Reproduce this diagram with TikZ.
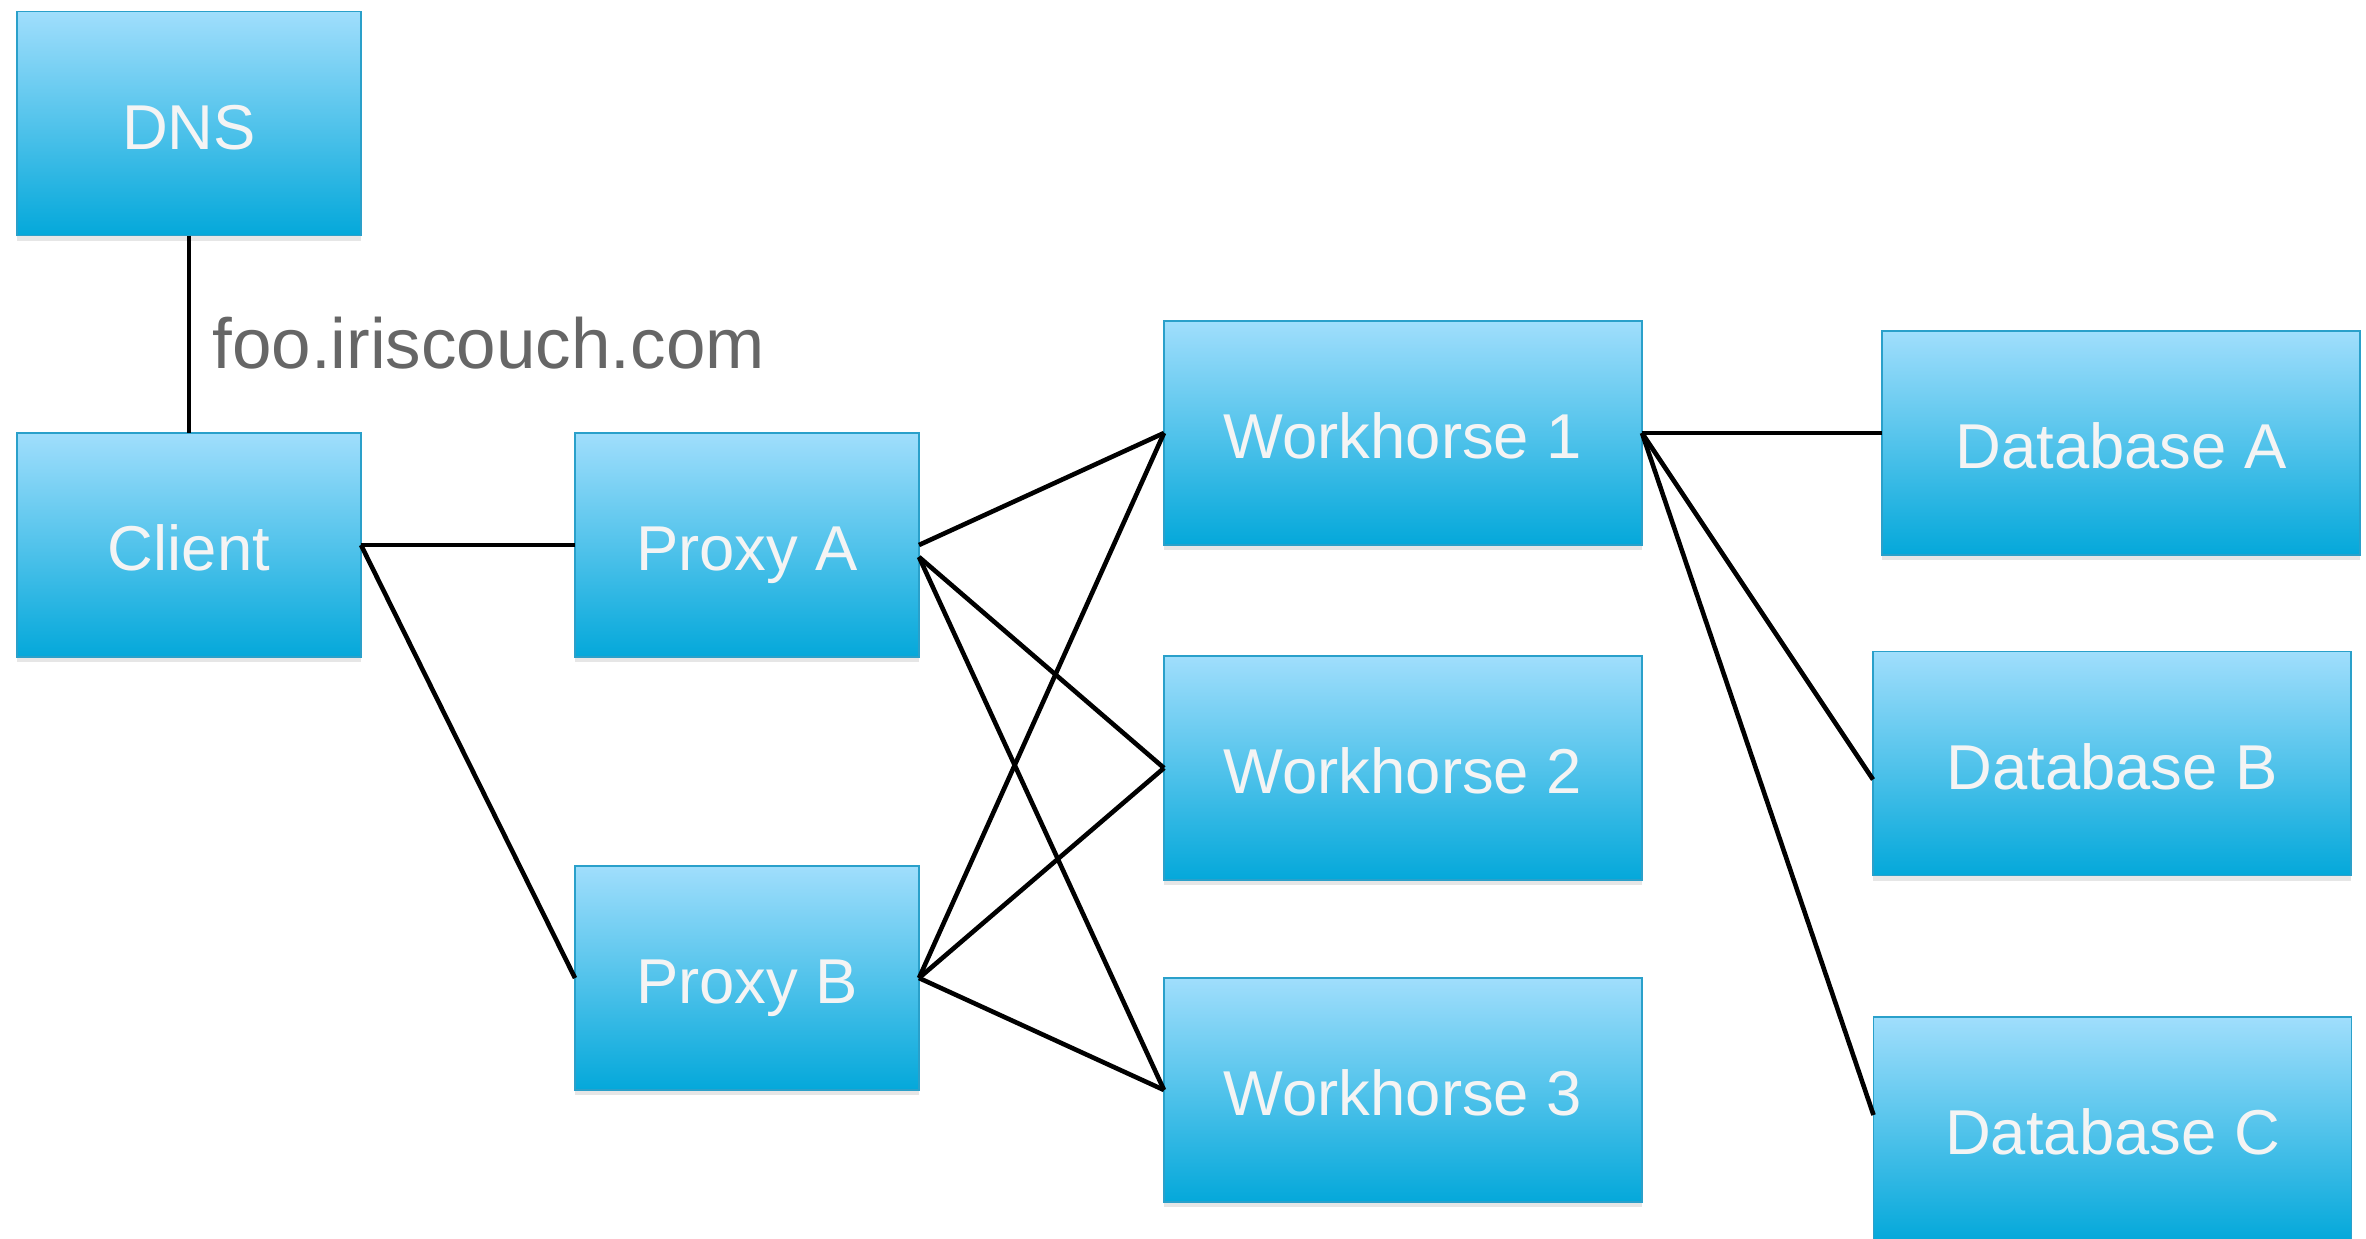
\documentclass[tikz,border=0pt]{standalone}
\usepackage{fontspec}
\setmainfont{Liberation Sans}
\usepackage{tikz}
\usetikzlibrary{shadows}

\definecolor{boxtop}{HTML}{A0DEFC}
\definecolor{boxbottom}{HTML}{04A8DA}
\definecolor{boxline}{HTML}{2AA0CA}
\definecolor{boxtext}{HTML}{F4F4F4}
\definecolor{labelgray}{HTML}{666666}

\begin{document}
\begin{tikzpicture}[x=0.5pt,y=-0.5pt]
  \tikzset{BoxStyle/.style = {
    shape         = rectangle,
    draw          = boxline,
    top color     = boxtop,
    bottom color  = boxbottom,
    line width    = 0.75pt,
    text          = boxtext,
    inner sep     = 0pt,
    outer sep     = 0pt,
    minimum width = 172pt,
    minimum height= 112pt,
    text height   = 25.5pt,
    text depth    = 0pt,
    font          = \fontsize{31.7}{38}\selectfont,
    drop shadow   = {shadow xshift=0pt, shadow yshift=-2.5pt, opacity=0.2}
    }
  }
  \tikzset{WideBoxStyle/.style = {
    BoxStyle,
    minimum width = 239pt
    }
  }
  \tikzset{EdgeStyle/.style = {
    draw          = black,
    line width    = 2.3pt
    }
  }
  \tikzset{LabelStyle/.style = {
    text          = labelgray,
    inner sep     = 0pt,
    anchor        = base west,
    font          = \fontsize{35.5}{42}\selectfont
    }
  }

  \useasboundingbox (0,0) rectangle (2366,1238);

	\node[BoxStyle](DNS) at (189, 123.5) {DNS};
	\node[BoxStyle](C1) at (189, 545) {Client};
	\node[BoxStyle](P1) at (747, 545) {Proxy A};
	\node[BoxStyle](P2) at (747, 978) {Proxy B};
	\node[WideBoxStyle](W1) at (1403, 433) {Workhorse 1};
	\node[WideBoxStyle](W2) at (1403, 768) {Workhorse 2};
	\node[WideBoxStyle](W3) at (1403, 1090) {Workhorse 3};
	\node[WideBoxStyle](D1) at (2121, 443) {Database A};
	\node[WideBoxStyle](D2) at (2112, 763.5) {Database B};
	\node[WideBoxStyle](D3) at (2112.5, 1129) {Database C};
	\node[LabelStyle](L1) at (212, 368) {foo.iriscouch.com};

	\draw[EdgeStyle](DNS) to (C1);
	\draw[EdgeStyle](C1.east) to (P1.west);
	\draw[EdgeStyle](C1.east) to (P2.west);
	\draw[EdgeStyle](P1.east) to (W1.west);
	\draw[EdgeStyle]([yshift=-6pt]P1.east) to (W2.west);
	\draw[EdgeStyle]([yshift=-6pt]P1.east) to (W3.west);
	\draw[EdgeStyle](P2.east) to (W1.west);
	\draw[EdgeStyle](P2.east) to (W2.west);
	\draw[EdgeStyle](P2.east) to (W3.west);
	\draw[EdgeStyle](W1.east) to (W1.east -| D1.west);
	\draw[EdgeStyle](W1.east) to ([yshift=-8pt]D2.west);
	\draw[EdgeStyle](W1.east) to ([yshift=7pt]D3.west);

\end{tikzpicture}
\end{document}
